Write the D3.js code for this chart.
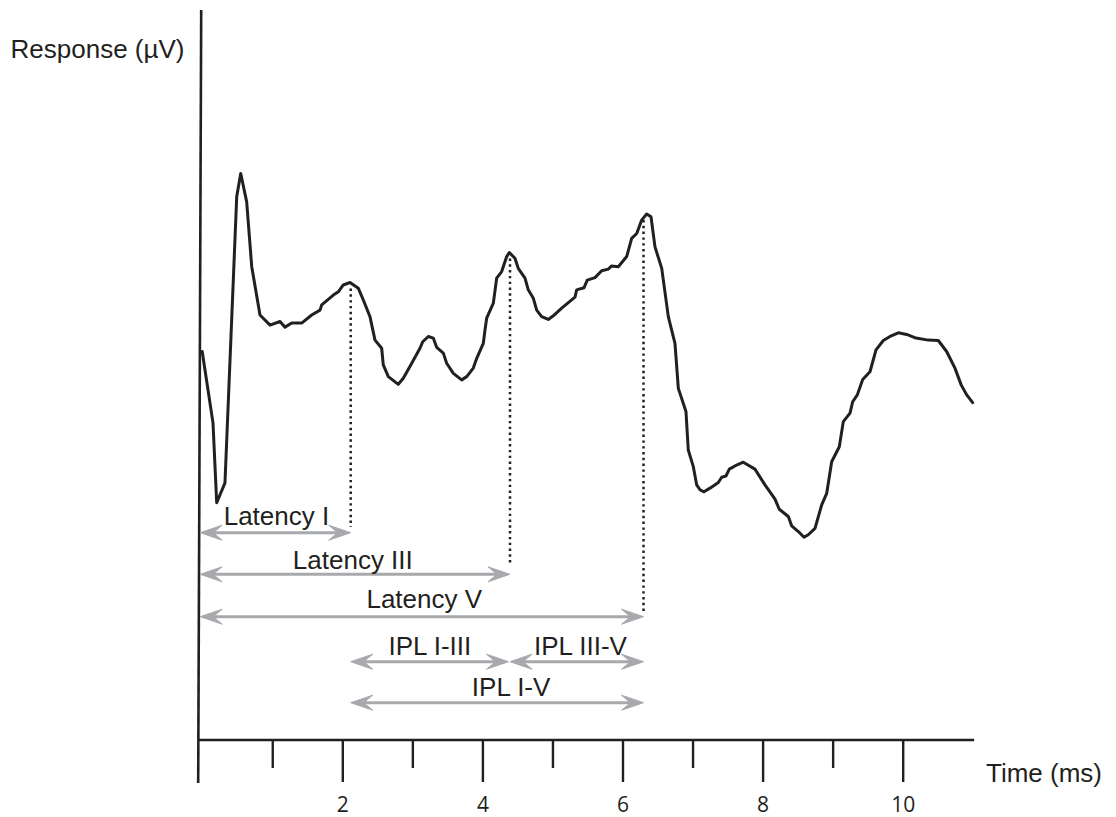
<!DOCTYPE html>
<html>
<head>
<meta charset="utf-8">
<script src="https://cdn.jsdelivr.net/npm/d3@7"></script>
<style>
  html, body { margin: 0; padding: 0; background: #fff; }
  svg { display: block; }
</style>
</head>
<body>
<svg id="chart" width="1116" height="817"></svg>
<script>
// ---- data ----
const timeMs = [0.000,0.154,0.207,0.325,0.493,0.550,0.635,0.707,0.825,0.968,1.111,1.182,1.278,1.420,1.563,1.682,1.706,1.872,1.943,2.014,2.110,2.228,2.300,2.395,2.467,2.562,2.585,2.657,2.799,2.871,2.991,3.109,3.148,3.228,3.299,3.348,3.442,3.490,3.585,3.704,3.776,3.870,3.919,4.013,4.037,4.061,4.156,4.204,4.275,4.347,4.384,4.465,4.512,4.608,4.655,4.727,4.775,4.846,4.941,5.012,5.132,5.322,5.346,5.450,5.497,5.607,5.703,5.797,5.846,5.940,6.060,6.131,6.203,6.274,6.345,6.407,6.464,6.560,6.654,6.749,6.797,6.906,6.939,7.011,7.059,7.106,7.163,7.249,7.368,7.416,7.477,7.525,7.630,7.724,7.891,8.034,8.177,8.238,8.367,8.415,8.510,8.591,8.652,8.748,8.844,8.915,8.986,9.095,9.152,9.248,9.286,9.352,9.429,9.533,9.619,9.723,9.819,9.937,10.057,10.190,10.365,10.508,10.627,10.746,10.836,10.914,10.999];
const responseUV = [0.158,-0.018,-0.215,-0.166,0.540,0.597,0.527,0.367,0.248,0.223,0.232,0.218,0.228,0.228,0.248,0.260,0.273,0.297,0.305,0.322,0.328,0.314,0.285,0.244,0.186,0.166,0.125,0.096,0.077,0.092,0.129,0.166,0.182,0.195,0.191,0.168,0.154,0.129,0.104,0.088,0.096,0.117,0.141,0.178,0.211,0.240,0.277,0.339,0.355,0.392,0.402,0.388,0.363,0.339,0.310,0.289,0.260,0.244,0.237,0.246,0.265,0.292,0.310,0.315,0.334,0.340,0.357,0.361,0.369,0.367,0.392,0.437,0.449,0.482,0.497,0.490,0.416,0.363,0.244,0.178,0.067,0.010,-0.085,-0.126,-0.171,-0.183,-0.188,-0.179,-0.165,-0.152,-0.149,-0.132,-0.122,-0.115,-0.132,-0.171,-0.206,-0.231,-0.249,-0.272,-0.286,-0.300,-0.294,-0.278,-0.220,-0.192,-0.114,-0.077,-0.015,0.006,0.034,0.051,0.089,0.108,0.162,0.185,0.195,0.204,0.200,0.191,0.186,0.185,0.158,0.117,0.075,0.051,0.032];

const peakNames = ["I", "III", "V"];
const peakTimes = [2.12, 4.394, 6.30];
const peakValues = [0.328, 0.402, 0.497];

// interval annotations: label, start (ms), end (ms), row
const intervalLabels = ["Latency I", "Latency III", "Latency V", "IPL I-III", "IPL III-V", "IPL I-V"];
const intervalStart = [0, 0, 0, 2.12, 4.394, 2.12];
const intervalEnd   = [2.12, 4.394, 6.30, 4.394, 6.30, 6.30];
const intervalRow   = [0, 1, 2, 3, 3, 4];
const labelCenter   = [1.06, 2.15, 3.17, 3.25, 5.4, 4.41]; // ms

const majorTicks = [2, 4, 6, 8, 10];
const minorTicks = [1, 3, 5, 7, 9];
const xLabel = "Time (ms)";
const yLabel = "Response (µV)";

// ---- layout ----
const svg = d3.select("#chart");
const ink = "#231f20";
const gray = "#a7a9ac";
const x = d3.scaleLinear().domain([0, 10]).range([202.2, 902.7]);
const y = d3.scaleLinear().domain([-0.8, 1.0]).range([740, 10]);
const axisEnd = 11.02;
const rowY = [532.7, 574.3, 616.7, 661.7, 702.7];
const dotEnd = [527, 566, 613];
const labelBaseline = [525, 569.3, 608.3, 655, 655, 696];

// x axis line
svg.append("line")
  .attr("x1", x(0) - 4).attr("x2", x(axisEnd))
  .attr("y1", y(-0.8)).attr("y2", y(-0.8))
  .attr("stroke", ink).attr("stroke-width", 2.6);

// y axis line (extends down as the 0 tick)
svg.append("line")
  .attr("x1", x(0) - 1).attr("y1", y(1.0))
  .attr("x2", x(0) - 4).attr("y2", 783)
  .attr("stroke", ink).attr("stroke-width", 2.6);

// ticks
const xAxisMajor = d3.axisBottom(x).tickValues(majorTicks).tickSize(42).tickPadding(0).tickFormat(d3.format("d"));
const gMaj = svg.append("g").attr("transform", `translate(0,${y(-0.8)})`).call(xAxisMajor);
gMaj.attr("font-size", null).attr("font-family", null);
gMaj.select(".domain").remove();
gMaj.selectAll(".tick line").attr("stroke", ink).attr("stroke-width", 2.4);
gMaj.selectAll(".tick text")
  .attr("y", 72).attr("dy", null)
  .attr("fill", ink)
  .style("font-family", "'Open Sans', 'Liberation Sans', sans-serif")
  .style("font-size", "21px");

const xAxisMinor = d3.axisBottom(x).tickValues(minorTicks).tickSize(28).tickFormat("");
const gMin = svg.append("g").attr("transform", `translate(0,${y(-0.8)})`).call(xAxisMinor);
gMin.select(".domain").remove();
gMin.selectAll(".tick line").attr("stroke", ink).attr("stroke-width", 2.4);

// axis titles
svg.append("text").text(yLabel)
  .attr("x", 97.5).attr("y", 58.3).attr("text-anchor", "middle")
  .attr("font-family", "'Liberation Sans', Arial, sans-serif").attr("font-size", 26).attr("fill", ink);
svg.append("text").text(xLabel)
  .attr("x", 1044).attr("y", 781.7).attr("text-anchor", "middle")
  .attr("font-family", "'Liberation Sans', Arial, sans-serif").attr("font-size", 26).attr("fill", ink);

// waveform
const pts = timeMs.map((t, i) => [t, responseUV[i]]);
svg.append("path")
  .datum(pts)
  .attr("d", d3.line().x(d => x(d[0])).y(d => y(d[1])).curve(d3.curveLinear))
  .attr("fill", "none").attr("stroke", ink).attr("stroke-width", 3)
  .attr("stroke-linejoin", "round").attr("stroke-linecap", "round");

// dotted peak markers
peakTimes.forEach((t, i) => {
  svg.append("line")
    .attr("x1", x(t)).attr("x2", x(t))
    .attr("y1", y(peakValues[i]) + 6).attr("y2", dotEnd[i])
    .attr("stroke", ink).attr("stroke-width", 2.5)
    .attr("stroke-dasharray", "2.4,3.4");
});

// double arrows
function head(xTip, yy, dir) {
  const L = 22, W = 7.5, N = 13;
  const p = [[xTip, yy], [xTip - dir * L, yy - W], [xTip - dir * N, yy], [xTip - dir * L, yy + W]];
  svg.append("path").attr("d", "M" + p.map(q => q.join(",")).join("L") + "Z")
    .attr("fill", gray).attr("stroke", gray).attr("stroke-width", 1).attr("stroke-linejoin", "round");
}
intervalLabels.forEach((lab, i) => {
  const yy = rowY[intervalRow[i]];
  const x1 = x(intervalStart[i]) - (intervalStart[i] === 0 ? 2 : 0);
  const x2 = x(intervalEnd[i]) - (i === 3 ? 1.5 : 0);
  svg.append("line").attr("x1", x1 + 8).attr("x2", x2 - 8).attr("y1", yy).attr("y2", yy)
    .attr("stroke", gray).attr("stroke-width", 3);
  head(x1, yy, -1);
  head(x2, yy, 1);
  svg.append("text").text(lab)
    .attr("x", x(labelCenter[i])).attr("y", labelBaseline[i]).attr("text-anchor", "middle")
    .attr("font-family", "'Liberation Sans', Arial, sans-serif").attr("font-size", 26).attr("fill", ink);
});
</script>
</body>
</html>
